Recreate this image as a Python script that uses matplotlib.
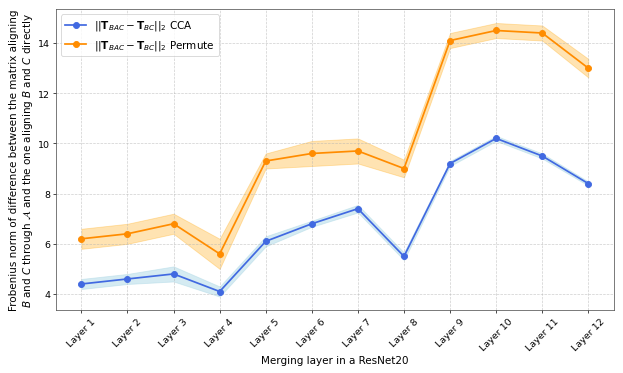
import numpy as np
import matplotlib.pyplot as plt

# values
layers = [f'Layer {i}' for i in range(1, 13)]
cca_mean = [4.4, 4.6, 4.8, 4.1, 6.1, 6.8, 7.4, 5.5, 9.2, 10.2, 9.5, 8.4]
cca_std = [0.2, 0.2, 0.3, 0.2, 0.2, 0.12, 0.15, 0.15, 0.1, 0.1, 0.1, 0.08]
perm_mean = [6.2, 6.4, 6.8, 5.6, 9.3, 9.6, 9.7, 9.0, 14.1, 14.5, 14.4, 13.0]
perm_std = [0.4, 0.4, 0.4, 0.6, 0.3, 0.5, 0.5, 0.35, 0.3, 0.3, 0.3, 0.37]

x = np.arange(len(layers))
cca_mean = np.array(cca_mean)
cca_std = np.array(cca_std)
perm_mean = np.array(perm_mean)
perm_std = np.array(perm_std)

fig, ax = plt.subplots(figsize=(10, 6), dpi=62.3)

ax.plot(x, cca_mean, 'o-', color='royalblue', linewidth=2, markersize=7,
        label=r'$||\mathbf{T}_{BAC} - \mathbf{T}_{BC}||_2$ CCA')
ax.fill_between(x, cca_mean - cca_std, cca_mean + cca_std, color='lightblue', alpha=0.5)

ax.plot(x, perm_mean, 'o-', color='darkorange', linewidth=2, markersize=7,
        label=r'$||\mathbf{T}_{BAC} - \mathbf{T}_{BC}||_2$ Permute')
ax.fill_between(x, perm_mean - perm_std, perm_mean + perm_std, color='orange', alpha=0.3)

ax.set_xticks(x)
ax.set_xticklabels(layers, rotation=45)
ax.tick_params(labelsize=11)
ax.set_xlabel('Merging layer in a ResNet20', fontsize=12)
ax.set_ylabel('Frobenius norm of difference between the matrix aligning\n'
              r'$B$ and $C$ through $\mathcal{A}$ and the one aligning $B$ and $C$ directly',
              fontsize=12)
ax.grid(True, linestyle='--', alpha=0.6)
ax.legend(loc='upper left', fontsize=12)
for s in ax.spines.values():
    s.set_color('#444444')

plt.subplots_adjust(left=0.09, right=0.985, top=0.973, bottom=0.168)
plt.savefig('out.png')
